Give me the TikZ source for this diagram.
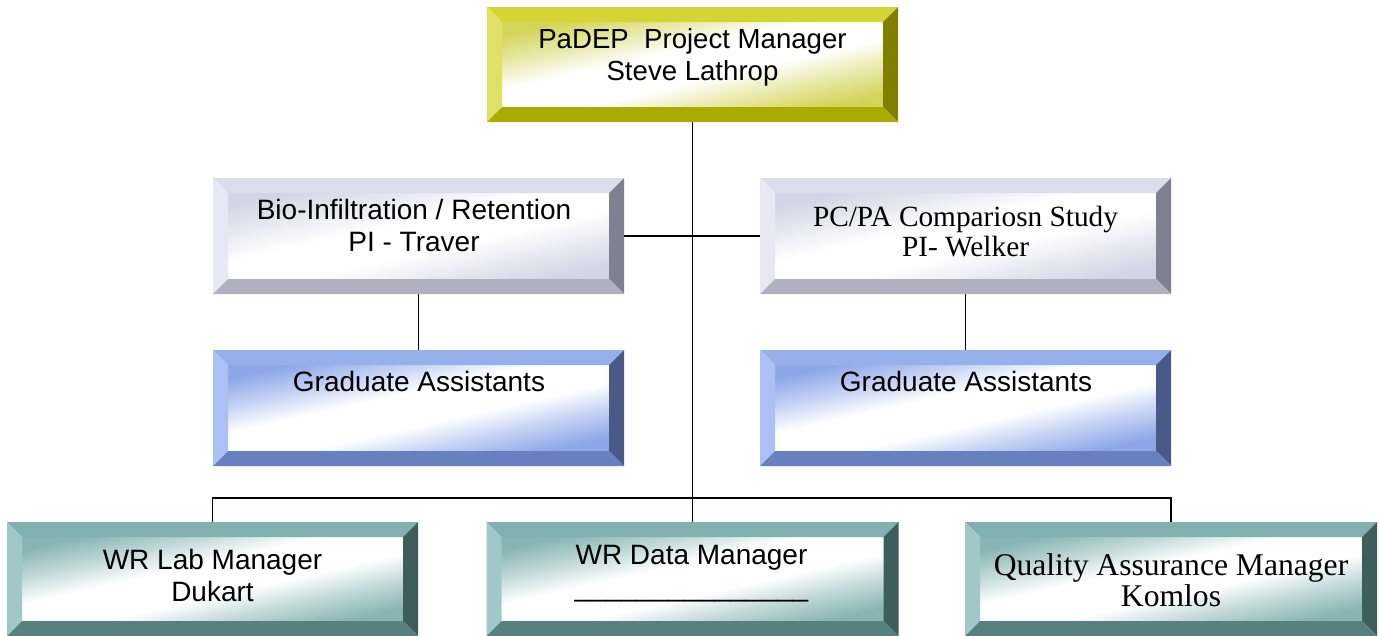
\documentclass[tikz,border=0pt]{standalone}
\usepackage{fontspec}
\setmainfont{Liberation Sans}
\newfontfamily\timesfont{Liberation Serif}
\usetikzlibrary{calc}

% bevel palettes: top, left, right, bottom, face tint
\definecolor{yTop}{HTML}{D4D434}\definecolor{yLeft}{HTML}{E0E064}
\definecolor{yRight}{HTML}{808000}\definecolor{yBot}{HTML}{AAAA00}
\definecolor{yFace}{HTML}{D4D45A}
\definecolor{gTop}{HTML}{DCDCEB}\definecolor{gLeft}{HTML}{E8E8F4}
\definecolor{gRight}{HTML}{808090}\definecolor{gBot}{HTML}{B0B0C0}
\definecolor{gFace}{HTML}{D4D4E6}
\definecolor{bTop}{HTML}{96B0EC}\definecolor{bLeft}{HTML}{ACC0F4}
\definecolor{bRight}{HTML}{4A5A88}\definecolor{bBot}{HTML}{6880C0}
\definecolor{bFace}{HTML}{8CA6E8}
\definecolor{tTop}{HTML}{80B0B0}\definecolor{tLeft}{HTML}{A0C8C8}
\definecolor{tRight}{HTML}{3E5E5E}\definecolor{tBot}{HTML}{588080}
\definecolor{tFace}{HTML}{88B4B4}

% face gradients: tinted corners with a wide white band along the diagonal
\newcommand\faceshading[2]{%
  \pgfdeclareverticalshading{#1}{100bp}{%
    color(0bp)=(#2); color(25bp)=(#2); color(35bp)=(#2!50!white);
    color(44bp)=(white); color(56bp)=(white); color(65bp)=(#2!50!white);
    color(75bp)=(#2); color(100bp)=(#2)}}
\faceshading{yFaceSh}{yFace}
\faceshading{gFaceSh}{gFace}
\faceshading{bFaceSh}{bFace}
\faceshading{tFaceSh}{tFace}

\tikzset{
  bevelbox/.style n args={5}{
    rectangle, inner sep=0pt, minimum width=411pt, minimum height=116pt,
    path picture={
      \path (path picture bounding box.north west) coordinate (bnw)
            (path picture bounding box.north east) coordinate (bne)
            (path picture bounding box.south west) coordinate (bsw)
            (path picture bounding box.south east) coordinate (bse);
      % face, white along the top-left to bottom-right diagonal
      \shade[shading=#5, shading angle=12.7]
        ($(bnw)+(14pt,-14pt)$) rectangle ($(bse)+(-14pt,14pt)$);
      % bevel edges
      \fill[#1] (bnw) -- (bne) -- ($(bne)+(-15pt,-15pt)$) -- ($(bnw)+(15pt,-15pt)$) -- cycle;
      \fill[#2] (bnw) -- (bsw) -- ($(bsw)+(15pt,15pt)$) -- ($(bnw)+(15pt,-15pt)$) -- cycle;
      \fill[#3] (bne) -- (bse) -- ($(bse)+(-15pt,15pt)$) -- ($(bne)+(-15pt,-15pt)$) -- cycle;
      \fill[#4] (bsw) -- (bse) -- ($(bse)+(-15pt,15pt)$) -- ($(bsw)+(15pt,15pt)$) -- cycle;
    }},
  yellowbox/.style={bevelbox={yTop}{yLeft}{yRight}{yBot}{yFaceSh}},
  graybox/.style={bevelbox={gTop}{gLeft}{gRight}{gBot}{gFaceSh}},
  bluebox/.style={bevelbox={bTop}{bLeft}{bRight}{bBot}{bFaceSh}},
  tealbox/.style={bevelbox={tTop}{tLeft}{tRight}{tBot}{tFaceSh}},
  sanstext/.style={inner sep=0pt, anchor=base, font=\fontsize{28}{32.4}\selectfont},
  seriftext/.style={inner sep=0pt, anchor=base, font=\timesfont\fontsize{29.3}{30}\selectfont},
  link/.style={draw=black, line width=1.8pt},
}

\begin{document}
\begin{tikzpicture}[x=1pt, y=1pt]
  \clip (0,0) rectangle (1379,-635);
  \fill[white] (0,0) rectangle (1379,-635);

  % boxes
  \node[yellowbox, minimum height=115pt] (pm) at (692.5,-64.5) {};
  \node[graybox] (bio)  at (418.5,-236) {};
  \node[graybox] (pcpa) at (965.5,-236) {};
  \node[bluebox] (ga1)  at (418.5,-408) {};
  \node[bluebox] (ga2)  at (965.5,-408) {};
  \node[tealbox, minimum height=114pt] (lab) at (212.5,-579) {};
  \node[tealbox, minimum height=114pt, minimum width=412pt] (dm)  at (692.5,-579) {};
  \node[tealbox, minimum height=114pt, minimum width=412pt] (qa)  at (1171,-579) {};

  % connectors
  \coordinate (bus) at (692.5,-498);
  \draw[link] (pm.south) -- (dm.north);
  \draw[link] (bio.east) -- (pcpa.west);
  \draw[link] (bio.south) -- (ga1.north);
  \draw[link] (pcpa.south) -- (ga2.north);
  \draw[link] (lab.north) |- (bus) -| (qa.north);

  % labels
  \node[sanstext, font=\fontsize{27.6}{31.7}\selectfont] (pm-t) at (692.5,-48.3)
    {\begin{tabular}[t]{@{}c@{}}PaDEP\ \ Project Manager\\Steve Lathrop\end{tabular}};
  \node[sanstext] (bio-t) at (414,-219.3)
    {\begin{tabular}[t]{@{}c@{}}Bio-Infiltration / Retention\\PI - Traver\end{tabular}};
  \node[seriftext] (pcpa-t) at (965.5,-226)
    {\begin{tabular}[t]{@{}c@{}}PC/PA Compariosn Study\\PI- Welker\end{tabular}};
  \node[sanstext] (ga1-t) at (419,-391.7) {Graduate Assistants};
  \node[sanstext] (ga2-t) at (966,-391.7) {Graduate Assistants};
  \node[sanstext] (lab-t) at (212.5,-569.3)
    {\begin{tabular}[t]{@{}c@{}}WR Lab Manager\\Dukart\end{tabular}};
  \node[sanstext] (dm-t) at (691.5,-564)
    {\begin{tabular}[t]{@{}c@{}}WR Data Manager\\\_\_\_\_\_\_\_\_\_\_\_\_\_\_\_\end{tabular}};
  \node[seriftext, font=\timesfont\fontsize{31.6}{31.7}\selectfont] (qa-t) at (1171,-575)
    {\begin{tabular}[t]{@{}c@{}}Quality Assurance Manager\\Komlos\end{tabular}};
\end{tikzpicture}
\end{document}
